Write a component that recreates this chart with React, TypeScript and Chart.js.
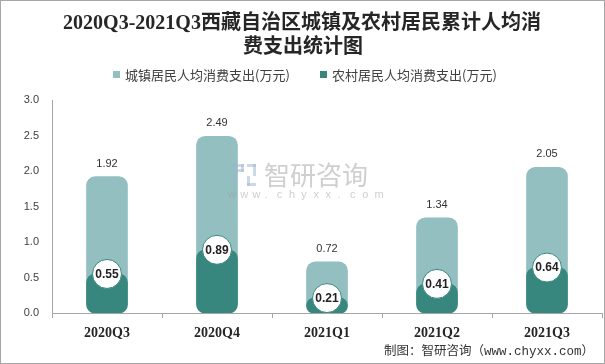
import React, { useEffect, useRef } from "react";
import { Chart, registerables } from "chart.js";

Chart.register(...registerables);

const categories = ["2020Q3", "2020Q4", "2021Q1", "2021Q2", "2021Q3"];
const urbanValues = [1.92, 2.49, 0.72, 1.34, 2.05];
const ruralValues = [0.55, 0.89, 0.21, 0.41, 0.64];
const titleLines = [
  "2020Q3-2021Q3西藏自治区城镇及农村居民累计人均消",
  "费支出统计图",
];
const legendLabels = ["城镇居民人均消费支出(万元)", "农村居民人均消费支出(万元)"];
const footerText = "制图：智研咨询（www.chyxx.com）";
const yTicks = [0, 0.5, 1, 1.5, 2, 2.5, 3];

const LIGHT = "#93BFC0";
const DARK = "#37877F";
const CJK = "'Noto Sans CJK SC', sans-serif";

const decorPlugin = {
  id: "decor",
  beforeDraw(chart: any) {
    const ctx = chart.ctx;
    ctx.save();
    ctx.fillStyle = "#ffffff";
    ctx.fillRect(0, 0, chart.width, chart.height);
    ctx.restore();
  },
  afterDatasetsDraw(chart: any) {
    const ctx = chart.ctx;
    const metaU = chart.getDatasetMeta(0);
    const metaR = chart.getDatasetMeta(1);
    ctx.save();
    ctx.fillStyle = "#333333";
    ctx.font = "11px 'Liberation Sans', sans-serif";
    ctx.textAlign = "center";
    ctx.textBaseline = "middle";
    metaU.data.forEach((el: any, i: number) => {
      ctx.fillText(urbanValues[i].toFixed(2), el.x, el.y - 13);
    });
    metaR.data.forEach((el: any, i: number) => {
      ctx.beginPath();
      ctx.arc(el.x, el.y, 14.5, 0, Math.PI * 2);
      ctx.fillStyle = "#ffffff";
      ctx.fill();
      ctx.lineWidth = 1;
      ctx.strokeStyle = DARK;
      ctx.stroke();
      ctx.fillStyle = "#222222";
      ctx.font = "bold 12px 'Liberation Sans', sans-serif";
      ctx.fillText(ruralValues[i].toFixed(2), el.x, el.y + 0.5);
    });
    ctx.restore();
  },
  afterDraw(chart: any) {
    const ctx = chart.ctx;
    const W = chart.width;
    const H = chart.height;
    ctx.save();
    // watermark
    ctx.globalAlpha = 0.5;
    ctx.fillStyle = "#9db4cf";
    ctx.fillRect(233, 164, 4, 8);
    ctx.fillRect(233, 164, 11, 3);
    ctx.fillRect(241, 164, 3, 8);
    ctx.fillRect(237, 169, 7, 3);
    ctx.fillRect(233, 175, 4, 11);
    ctx.fillRect(247, 164, 9, 3);
    ctx.fillRect(253, 164, 3, 12);
    ctx.fillRect(247, 176, 3, 10);
    ctx.fillRect(247, 183, 9, 3);
    ctx.fillStyle = "#a0a0a0";
    ctx.font = "26px " + CJK;
    ctx.textAlign = "left";
    ctx.textBaseline = "middle";
    ctx.fillText("智研咨询", 264, 175);
    ctx.font = "11px 'Liberation Sans', sans-serif";
    const wm = "www.chyxx.com".split("");
    wm.forEach((c, i) => {
      ctx.fillText(c, 228 + i * 12.2, 195);
    });
    ctx.globalAlpha = 1;

    // title
    ctx.fillStyle = "#262626";
    ctx.textAlign = "center";
    ctx.textBaseline = "middle";
    ctx.font = "bold 20px 'Liberation Serif', " + CJK;
    ctx.fillText(titleLines[0], 302, 24);
    ctx.fillText(titleLines[1], 303, 48);

    // legend
    ctx.font = "13px " + CJK;
    ctx.textAlign = "left";
    const legendX = [113, 320];
    const colors = [LIGHT, DARK];
    legendLabels.forEach((lab, i) => {
      ctx.fillStyle = colors[i];
      ctx.fillRect(legendX[i], 71, 7, 7);
      ctx.fillStyle = "#404040";
      ctx.fillText(lab, legendX[i] + 12, 75);
    });

    // footer
    ctx.fillStyle = "#333333";
    ctx.textAlign = "right";
    ctx.font = "12.5px 'Liberation Mono', " + CJK;
    ctx.fillText(footerText, 594, 352);

    // outer border
    ctx.strokeStyle = "#a6a6a6";
    ctx.lineWidth = 1;
    ctx.strokeRect(0.5, 0.5, W - 1, H - 1);
    ctx.restore();
  },
};

export default function App() {
  const ref = useRef<HTMLCanvasElement | null>(null);
  useEffect(() => {
    document.body.style.margin = "0";
    const canvas = ref.current;
    if (!canvas) return;
    const chart = new Chart(canvas, {
      type: "bar",
      data: {
        labels: categories,
        datasets: [
          {
            label: legendLabels[0],
            data: urbanValues,
            backgroundColor: LIGHT,
            borderRadius: 9,
            borderSkipped: false,
            barThickness: 41,
            order: 2,
          },
          {
            label: legendLabels[1],
            data: ruralValues,
            backgroundColor: DARK,
            borderRadius: 9,
            borderSkipped: false,
            barThickness: 41,
            order: 1,
          },
        ],
      },
      options: {
        responsive: false,
        animation: false,
        devicePixelRatio: 1,
        layout: { padding: { top: 100, left: 0, right: 3, bottom: 0 } },
        plugins: {
          legend: { display: false },
          title: { display: false },
          tooltip: { enabled: false },
        },
        scales: {
          x: {
            stacked: true,
            grid: {
              display: true,
              drawOnChartArea: false,
              drawTicks: true,
              tickLength: 5,
              color: "#a6a6a6",
              offset: true,
            },
            border: { display: true, color: "#a6a6a6" },
            ticks: {
              color: "#262626",
              font: { family: "'Liberation Serif', serif", size: 14, weight: "bold" },
              padding: 7,
            },
            afterFit: (s: any) => {
              s.height = 51;
            },
          },
          y: {
            stacked: false,
            min: 0,
            max: 3,
            grid: { display: false, drawTicks: false },
            border: { display: true, color: "#a6a6a6" },
            afterBuildTicks: (s: any) => {
              s.ticks = yTicks.map((v) => ({ value: v }));
            },
            ticks: {
              color: "#404040",
              font: { family: "'Liberation Sans', sans-serif", size: 11 },
              padding: 13,
              callback: (v: any) => Number(v).toFixed(1),
            },
            afterFit: (s: any) => {
              s.width = 52;
            },
          },
        },
      },
      plugins: [decorPlugin],
    });
    return () => chart.destroy();
  }, []);
  return (
    <div style={{ width: 605, height: 364 }}>
      <canvas ref={ref} width={605} height={364} style={{ display: "block" }} />
    </div>
  );
}
